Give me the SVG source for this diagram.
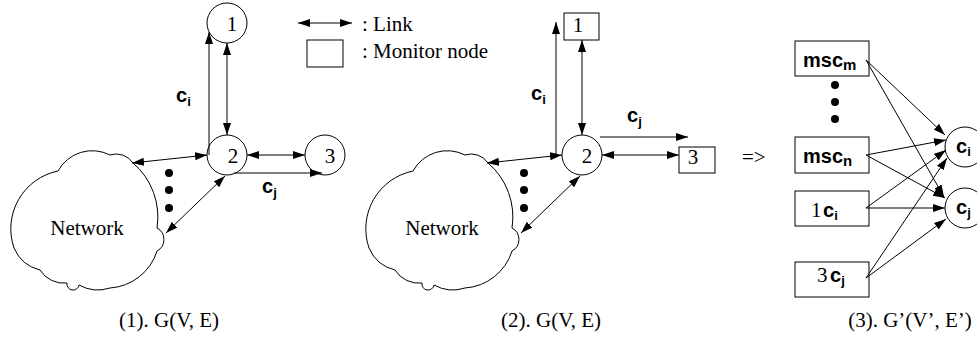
<svg xmlns="http://www.w3.org/2000/svg" width="977" height="341" viewBox="0 0 977 341">
<style>
.l{fill:none;stroke:#000;stroke-width:1}
.n{fill:#fff;stroke:#000;stroke-width:1}
.t{font-family:"Liberation Serif","Times New Roman",serif;font-size:21px;fill:#000}
.b{font-family:"Liberation Sans",Arial,sans-serif;font-weight:bold;font-size:20px;fill:#000}
.s{font-size:13px}
.a{marker-end:url(#ah)}
.d{marker-start:url(#ah);marker-end:url(#ah)}
.dot{fill:#000}
</style>
<defs>
<marker id="ah" viewBox="0 0 12 8" refX="12" refY="4" markerWidth="12" markerHeight="8" markerUnits="userSpaceOnUse" orient="auto-start-reverse"><path d="M0,0L12,4L0,8z" fill="#000"/></marker>
<path id="cloud" d="M58,171 A39,39 0 0,1 110,155 A20,20 0 0,1 133,163 A71,71 0 0,1 157,228 A13,13 0 0,1 157,251 A53,53 0 0,1 110,288 A39,39 0 0,1 79,285 A6,6 0 0,1 67,283 A28,28 0 0,1 40,270 A38,38 0 0,1 14,248 A59,59 0 0,1 58,171 Z" fill="#fff" stroke="#000" stroke-width="1"/>
</defs>

<g id="legend">
<line class="l d" x1="298" y1="23" x2="352" y2="23"/>
<text class="t" x="362" y="31" font-size="20">: Link</text>
<rect class="n" x="307" y="40" width="36" height="27"/>
<text class="t" x="362" y="58" font-size="20">: Monitor node</text>
</g>

<!-- Panel 1 -->
<g id="p1-network"><use href="#cloud"/><text class="t" x="87" y="235" text-anchor="middle">Network</text></g>
<g id="p1-node1"><circle class="n" cx="227" cy="23" r="20"/><text class="t" x="232" y="31" text-anchor="middle" font-size="22">1</text></g>
<g id="p1-node2"><circle class="n" cx="227" cy="155" r="20"/><text class="t" x="233" y="163" text-anchor="middle" font-size="22">2</text></g>
<g id="p1-node3"><circle class="n" cx="325" cy="155" r="20"/><text class="t" x="330" y="163" text-anchor="middle" font-size="22">3</text></g>

<!-- Panel 2 -->
<g id="p2-network"><use href="#cloud" transform="translate(355,0)"/><text class="t" x="442" y="235" text-anchor="middle">Network</text></g>
<g id="p2-node1"><rect class="n" x="564" y="13" width="35" height="27"/><text class="t" x="578" y="32" text-anchor="middle" font-size="20">1</text></g>
<g id="p2-node2"><circle class="n" cx="582" cy="155" r="20"/><text class="t" x="587" y="163" text-anchor="middle" font-size="22">2</text></g>
<g id="p2-node3"><rect class="n" x="679" y="147" width="36" height="26"/><text class="t" x="693" y="164" text-anchor="middle" font-size="20">3</text></g>

<!-- Panel 3 -->
<g id="p3-mscm"><rect class="n" x="795" y="41" width="74" height="35"/><text class="b" x="803" y="67" font-size="22">msc<tspan font-size="15" dy="3">m</tspan></text></g>
<g id="p3-mscn"><rect class="n" x="795" y="137" width="74" height="36"/><text class="b" x="803" y="163" font-size="22">msc<tspan font-size="15" dy="3">n</tspan></text></g>
<g id="p3-1ci"><rect class="n" x="795" y="191" width="74" height="35"/><text class="t" x="811" y="217" font-size="23">1</text><text class="b" x="823" y="217">c<tspan class="s" dy="3">i</tspan></text></g>
<g id="p3-3cj"><rect class="n" x="795" y="262" width="74" height="35"/><text class="t" x="817" y="282" font-size="23">3</text><text class="b" x="830" y="282">c<tspan class="s" dy="3">j</tspan></text></g>
<g id="p3-ci"><circle class="n" cx="965" cy="147" r="20"/><text class="b" x="956" y="153">c<tspan class="s" dy="3">i</tspan></text></g>
<g id="p3-cj"><circle class="n" cx="965" cy="208" r="20"/><text class="b" x="956" y="214">c<tspan class="s" dy="3">j</tspan></text></g>

<g id="connectors">
<!-- panel 1 -->
<line class="l a" x1="209" y1="155" x2="209" y2="32"/>
<line class="l d" x1="227" y1="43" x2="227" y2="135"/>
<line class="l d" x1="247" y1="155" x2="305" y2="155"/>
<line class="l a" x1="234" y1="173" x2="322" y2="173"/>
<line class="l d" x1="132" y1="163" x2="207" y2="155"/>
<line class="l d" x1="166" y1="233" x2="225" y2="176"/>
<!-- panel 2 -->
<line class="l a" x1="556" y1="155" x2="556" y2="22"/>
<line class="l d" x1="582" y1="40" x2="582" y2="135"/>
<line class="l d" x1="602" y1="155" x2="679" y2="155"/>
<line class="l a" x1="600" y1="137" x2="688" y2="137"/>
<line class="l d" x1="487" y1="163" x2="562" y2="155"/>
<line class="l d" x1="521" y1="233" x2="580" y2="176"/>
<!-- panel 3 -->
<line class="l a" x1="866" y1="60" x2="945" y2="135"/>
<line class="l a" x1="866" y1="60" x2="944" y2="197"/>
<line class="l a" x1="866" y1="155" x2="946" y2="140"/>
<line class="l a" x1="866" y1="155" x2="945" y2="198"/>
<line class="l a" x1="866" y1="208" x2="946" y2="150"/>
<line class="l a" x1="866" y1="208" x2="945" y2="208"/>
<line class="l a" x1="866" y1="278" x2="947" y2="158"/>
<line class="l a" x1="866" y1="278" x2="946" y2="219"/>
</g>

<g id="labels">
<text class="b" x="176" y="102">c<tspan class="s" dy="4">i</tspan></text>
<text class="b" x="262" y="193">c<tspan class="s" dy="4">j</tspan></text>
<text class="b" x="531" y="100">c<tspan class="s" dy="4">i</tspan></text>
<text class="b" x="627" y="122">c<tspan class="s" dy="4">j</tspan></text>
<circle class="dot" cx="169" cy="173" r="4"/><circle class="dot" cx="169" cy="190" r="4"/><circle class="dot" cx="169" cy="208" r="4"/>
<circle class="dot" cx="524" cy="173" r="4"/><circle class="dot" cx="524" cy="190" r="4"/><circle class="dot" cx="524" cy="208" r="4"/>
<circle class="dot" cx="835" cy="85" r="4"/><circle class="dot" cx="835" cy="102" r="4"/><circle class="dot" cx="835" cy="119" r="4"/>
<text class="t" x="742" y="164" font-size="22">=&gt;</text>
<text class="t" x="169" y="327" text-anchor="middle">(1). G(V, E)</text>
<text class="t" x="551" y="327" text-anchor="middle">(2). G(V, E)</text>
<text class="t" x="910" y="327" text-anchor="middle">(3). G’(V’, E’)</text>
</g>
</svg>
